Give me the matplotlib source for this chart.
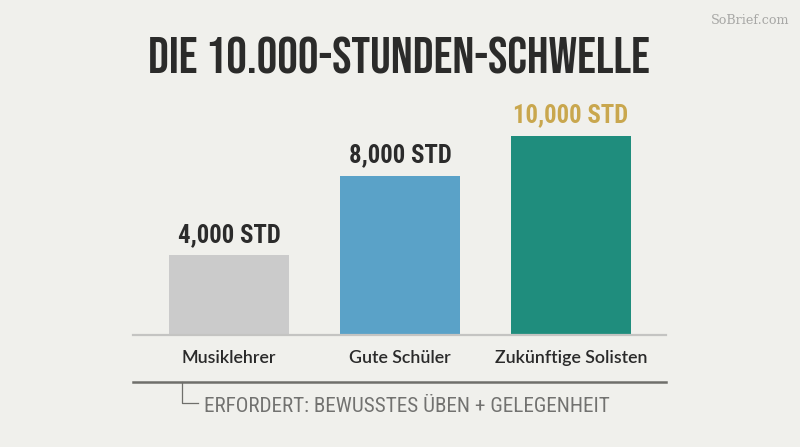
import matplotlib
matplotlib.use("Agg")
import matplotlib.pyplot as plt

# data
categories = ["Musiklehrer", "Gute Schüler", "Zukünftige Solisten"]
hours = [4000, 8000, 10000]
value_labels = ["4,000 STD", "8,000 STD", "10,000 STD"]

bar_colors = ["#cbcbcb", "#5aa2c8", "#1f8d7d"]
label_colors = ["#2b2b2b", "#2b2b2b", "#c9a74e"]
bg = "#f0f0ec"

W, H = 800, 447
fig = plt.figure(figsize=(W / 100, H / 100), dpi=100, facecolor=bg)

# axes placed by pixel: baseline at y=335, from x=133 to x=666
ax = fig.add_axes([133 / W, (H - 335) / H, 533 / W, 199 / H])
ax.set_facecolor(bg)
x = list(range(len(categories)))
ax.bar(x, hours, width=0.70, color=bar_colors, zorder=2)
ax.set_xlim(-0.561, 2.556)
ax.set_ylim(0, 10000)
for s in ["top", "right", "left"]:
    ax.spines[s].set_visible(False)
ax.spines["bottom"].set_color("#c4c4c2")
ax.spines["bottom"].set_linewidth(1.6)
ax.set_yticks([])
ax.set_xticks(x)
ax.set_xticklabels(categories, family="Lato", fontsize=12.8, fontweight="semibold",
                   color="#2a2a2a")
ax.tick_params(axis="x", length=0, pad=11)

for xi, h, lab, c in zip(x, hours, value_labels, label_colors):
    ax.annotate(lab, (xi, h), xytext=(0, 6), textcoords="offset points",
                ha="center", va="bottom", fontsize=17.8, fontweight="bold",
                family="Roboto Condensed", color=c, clip_on=False)

# title
fig.text(0.499, 1 - 55 / H, "DIE 10.000-STUNDEN-SCHWELLE", ha="center", va="center",
         fontsize=37, family="Bebas Neue", color="#2b2b2a")

# watermark
fig.text(789 / W, 1 - 20 / H, "SoBrief.com", ha="right", va="center",
         fontsize=9.2, family="DejaVu Serif", color="#a8a8a6")

# lower rule and bracket note
fig.add_artist(plt.Line2D([133 / W, 666 / W], [1 - 382 / H] * 2,
                          color="#6f6f6b", lw=1.8, transform=fig.transFigure))
fig.add_artist(plt.Line2D([182 / W, 182 / W, 198 / W],
                          [1 - 382 / H, 1 - 403 / H, 1 - 403 / H],
                          color="#6f6f6b", lw=0.9, transform=fig.transFigure))
fig.text(204 / W, 1 - 406 / H, "ERFORDERT: BEWUSSTES ÜBEN + GELEGENHEIT",
         ha="left", va="center", fontsize=15.2, family="Roboto Condensed",
         color="#727270")

fig.savefig("out.png", dpi=100, facecolor=bg)
